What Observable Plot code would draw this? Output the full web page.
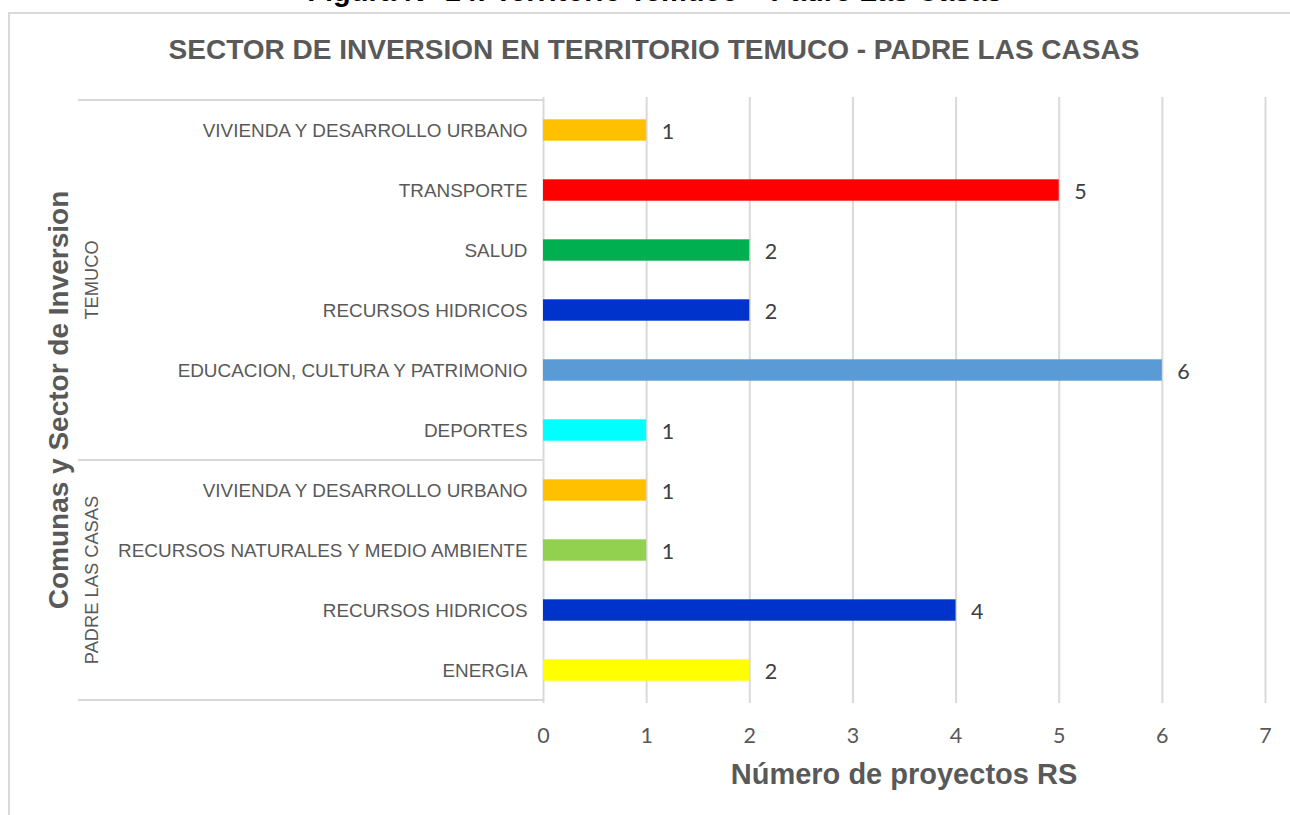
<!DOCTYPE html>
<html>
<head>
<meta charset="utf-8">
<script src="https://cdn.jsdelivr.net/npm/d3@7"></script>
<script src="https://cdn.jsdelivr.net/npm/@observablehq/plot@0.6"></script>
<style>
  html, body { margin: 0; padding: 0; background: #ffffff; }
  #wrap { position: relative; width: 1290px; height: 815px; overflow: hidden; font-family: "Liberation Sans", Arial, sans-serif; }
  #frame { position: absolute; left: 8px; top: 12px; width: 1400px; height: 900px; border-left: 2px solid #d9d9d9; border-top: 2px solid #d9d9d9; box-sizing: border-box; }
  #figcap { position: absolute; left: 0; top: -23px; width: 1310px; text-align: center; font-weight: bold; font-size: 29px; line-height: 29px; color: #000; white-space: nowrap; }
  #title { position: absolute; left: 8px; top: 36px; width: 1292px; text-align: center; font-weight: bold; font-size: 28px; line-height: 28px; color: #595959; white-space: nowrap; }
  #chart { position: absolute; left: 0; top: 0; }
  #chart svg { overflow: visible; }
</style>
</head>
<body>
<div id="wrap">
  <div id="frame"></div>
  <div id="figcap"></div>
  <div id="title"></div>
  <div id="chart"></div>
</div>
<script>
// ---- data ----
const figureCaption = "Figura N° 14: Territorio Temuco – Padre Las Casas";
const chartTitle = "SECTOR DE INVERSION EN TERRITORIO TEMUCO - PADRE LAS CASAS";
const xTitle = "Número de proyectos RS";
const yTitle = "Comunas y Sector de Inversion";

const comunas = ["TEMUCO", "TEMUCO", "TEMUCO", "TEMUCO", "TEMUCO", "TEMUCO",
                 "PADRE LAS CASAS", "PADRE LAS CASAS", "PADRE LAS CASAS", "PADRE LAS CASAS"];
const sectores = ["VIVIENDA Y DESARROLLO URBANO", "TRANSPORTE", "SALUD", "RECURSOS HIDRICOS",
                  "EDUCACION, CULTURA Y PATRIMONIO", "DEPORTES",
                  "VIVIENDA Y DESARROLLO URBANO", "RECURSOS NATURALES Y MEDIO AMBIENTE",
                  "RECURSOS HIDRICOS", "ENERGIA"];
const proyectos = [1, 5, 2, 2, 6, 1, 1, 1, 4, 2];
const xTicks = [0, 1, 2, 3, 4, 5, 6, 7];

const sectorDomain = ["VIVIENDA Y DESARROLLO URBANO", "TRANSPORTE", "SALUD", "RECURSOS HIDRICOS",
                      "EDUCACION, CULTURA Y PATRIMONIO", "DEPORTES",
                      "RECURSOS NATURALES Y MEDIO AMBIENTE", "ENERGIA"];
const sectorColors = ["#FFC000", "#FF0000", "#00B050", "#0033CC",
                      "#5B9BD5", "#00FFFF", "#92D050", "#FFFF00"];

// ---- table ----
const data = sectores.map((s, i) => ({
  key: comunas[i] + "|" + s,
  comuna: comunas[i],
  sector: s,
  value: proyectos[i]
}));
const keys = data.map(d => d.key);

document.getElementById("figcap").textContent = figureCaption;
document.getElementById("title").textContent = chartTitle;

const W = 1290, H = 815;
const mL = 543, mR = 25, mT = 97, mB = 112;
const numFont = "Lato, 'Open Sans', sans-serif";

const chart = Plot.plot({
  width: W,
  height: H,
  marginLeft: mL,
  marginRight: mR,
  marginTop: mT,
  marginBottom: mB,
  style: { fontFamily: "'Liberation Sans', Arial, sans-serif", color: "#595959", background: "transparent", overflow: "visible" },
  x: { domain: [0, 7] },
  y: { domain: keys, padding: 0 },
  color: { type: "ordinal", domain: sectorDomain, range: sectorColors },
  marks: [
    Plot.gridX(xTicks, { stroke: "#d9d9d9", strokeOpacity: 1, strokeWidth: 2 }),
    Plot.barX(data, { x: "value", y: "key", fill: "sector", insetTop: 19.3, insetBottom: 19.3 }),
    Plot.text(data, {
      x: "value", y: "key", text: d => String(d.value),
      textAnchor: "start", dx: 15, dy: 2, fill: "#404040",
      fontSize: 21.5, fontFamily: numFont
    }),
    Plot.axisY({
      tickSize: 0, tickPadding: 16, fontSize: 18.9, label: null,
      tickFormat: k => k.split("|")[1]
    }),
    Plot.axisX(xTicks, {
      tickSize: 0, tickPadding: 24, fontSize: 21.5, label: null,
      fontFamily: numFont, tickFormat: d => String(d)
    })
  ]
});
document.getElementById("chart").appendChild(chart);

// ---- group separators, group labels and axis titles from the scales ----
const ys = chart.scale("y");
const step = ys.step !== undefined ? ys.step : ys.bandwidth;
const svg = d3.select(chart);
const groupLeft = 78;
const groupNames = Array.from(new Set(comunas));
const bounds = [];
groupNames.forEach(g => {
  const ks = data.filter(d => d.comuna === g).map(d => d.key);
  const y0 = ys.apply(ks[0]);
  const y1 = ys.apply(ks[ks.length - 1]) + step;
  bounds.push([g, y0, y1]);
});
const lines = new Set();
bounds.forEach(([g, y0, y1]) => { lines.add(Math.round(y0 * 10) / 10); lines.add(Math.round(y1 * 10) / 10); });
const gLayer = svg.append("g");
Array.from(lines).forEach(y => {
  gLayer.append("line")
    .attr("x1", groupLeft).attr("x2", mL)
    .attr("y1", y).attr("y2", y)
    .attr("stroke", "#d9d9d9").attr("stroke-width", 2);
});
bounds.forEach(([g, y0, y1]) => {
  gLayer.append("text")
    .attr("transform", `translate(98,${(y0 + y1) / 2}) rotate(-90)`)
    .attr("text-anchor", "middle")
    .attr("fill", "#595959")
    .attr("font-size", 18.3)
    .attr("font-family", "'Liberation Sans', Arial, sans-serif")
    .text(g);
});
// y title
gLayer.append("text")
  .attr("transform", `translate(68,${(mT + H - mB) / 2}) rotate(-90)`)
  .attr("text-anchor", "middle")
  .attr("fill", "#595959")
  .attr("font-size", 28)
  .attr("font-weight", "bold")
  .attr("font-family", "'Liberation Sans', Arial, sans-serif")
  .text(yTitle);
// x title
const xs = chart.scale("x");
gLayer.append("text")
  .attr("x", (xs.apply(0) + xs.apply(7)) / 2)
  .attr("y", 784)
  .attr("text-anchor", "middle")
  .attr("fill", "#595959")
  .attr("font-size", 29)
  .attr("font-weight", "bold")
  .attr("font-family", "'Liberation Sans', Arial, sans-serif")
  .text(xTitle);
</script>
</body>
</html>
